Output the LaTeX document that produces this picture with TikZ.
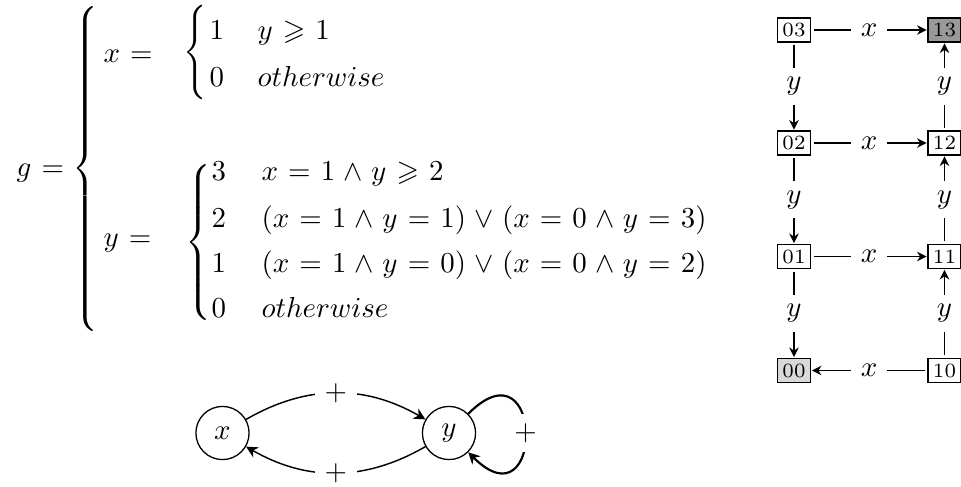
\documentclass[tikz,border=0pt]{standalone}
\usepackage{amsmath,amssymb,graphicx}
\usetikzlibrary{arrows.meta}
\newcommand{\mybrace}[2]{\scalebox{1}[#2]{$\delimiterfactor=1000 \delimitershortfall=0pt \left\{\vcenter{\hbox{\vrule height #1 depth #1 width 0pt}}\right.$}}
\tikzset{
  txt/.style={anchor=base west, inner sep=0pt},
  brc/.style={anchor=west, inner sep=0pt},
  st/.style={draw, line width=0.4pt, minimum width=11.4pt, minimum height=8.3pt, inner sep=0pt, font=\fontsize{7}{8}\selectfont},
  garr/.style={-{Stealth[length=3.3pt,width=3.3pt]}, line width=0.42pt, shorten <=1pt, shorten >=0.3pt},
  lbl/.style={fill=white},
  circ/.style={draw, circle, minimum size=18.4pt, inner sep=0pt, line width=0.45pt},
  barr/.style={-{Stealth[length=4pt,width=4pt]}, line width=0.5pt}
}
\begin{document}
\begin{tikzpicture}[x=0.346pt, y=0.346pt]
\thickmuskip=6.3mu plus 5mu
\medmuskip=5.2mu plus 2mu minus 4mu
\useasboundingbox (0,0) rectangle (961,-487);
% equation
\node[txt] (g) at (16,-176) {$g =$};
\node[brc] (B) at (72,-169) {\mybrace{54pt}{1.04}};
\node[txt] (xeq) at (103,-62) {$x =$};
\node[txt] (yeq) at (103,-246) {$y =$};
\node[brc] (Bx) at (183,-52.5) {\mybrace{14.5pt}{1.09}};
\node[txt] (x1) at (209,-39) {$1$};
\node[txt] (x1c) at (257,-39) {$y \geqslant 1$};
\node[txt] (x0) at (209,-86) {$0$};
\node[txt] (x0c) at (257,-86) {$otherwise$};
\node[brc] (By) at (185,-242.5) {\mybrace{27pt}{1}};
\node[txt] (y3) at (211,-180) {$3$};
\node[txt] (y3c) at (261,-180) {$x = 1 \wedge y \geqslant 2$};
\node[txt] (y2) at (211,-227) {$2$};
\node[txt] (y2c) at (261,-227) {$(x = 1 \wedge y = 1) \vee (x = 0 \wedge y = 3)$};
\node[txt] (y1) at (211,-272) {$1$};
\node[txt] (y1c) at (261,-272) {$(x = 1 \wedge y = 0) \vee (x = 0 \wedge y = 2)$};
\node[txt] (y0) at (211,-317) {$0$};
\node[txt] (y0c) at (261,-317) {$otherwise$};
% state grid
\node[st] (s03) at (794,-30) {03};
\node[st] (s02) at (794,-143) {02};
\node[st] (s01) at (794,-256.5) {01};
\node[st, fill=gray!30] (s00) at (794,-370.5) {00};
\node[st, fill=gray!80] (s13) at (944.5,-30) {13};
\node[st] (s12) at (944.5,-143) {12};
\node[st] (s11) at (944.5,-256.5) {11};
\node[st] (s10) at (944.5,-370.5) {10};
\draw[garr] (s03) -- node[lbl] {$x$} (s13);
\draw[garr] (s02) -- node[lbl] {$x$} (s12);
\draw[garr] (s01) -- node[lbl] {$x$} (s11);
\draw[garr] (s10) -- node[lbl] {$x$} (s00);
\draw[garr] (s03) -- node[lbl] {$y$} (s02);
\draw[garr] (s02) -- node[lbl] {$y$} (s01);
\draw[garr] (s01) -- node[lbl] {$y$} (s00);
\draw[garr] (s10) -- node[lbl] {$y$} (s11);
\draw[garr] (s11) -- node[lbl] {$y$} (s12);
\draw[garr] (s12) -- node[lbl] {$y$} (s13);
% interaction graph
\node[circ] (nx) at (222.5,-433) {$x$};
\node[circ] (ny) at (449,-433) {$y$};
\draw[barr] (nx) to[bend left=30] node[lbl] {$+$} (ny);
\draw[barr] (ny) to[bend left=30] node[lbl] {$+$} (nx);
\draw[barr, line width=0.75pt] (ny.45) .. controls +(45:108) and +(-45:108) .. node[lbl] {$+$} (ny.-45);
\end{tikzpicture}
\end{document}
